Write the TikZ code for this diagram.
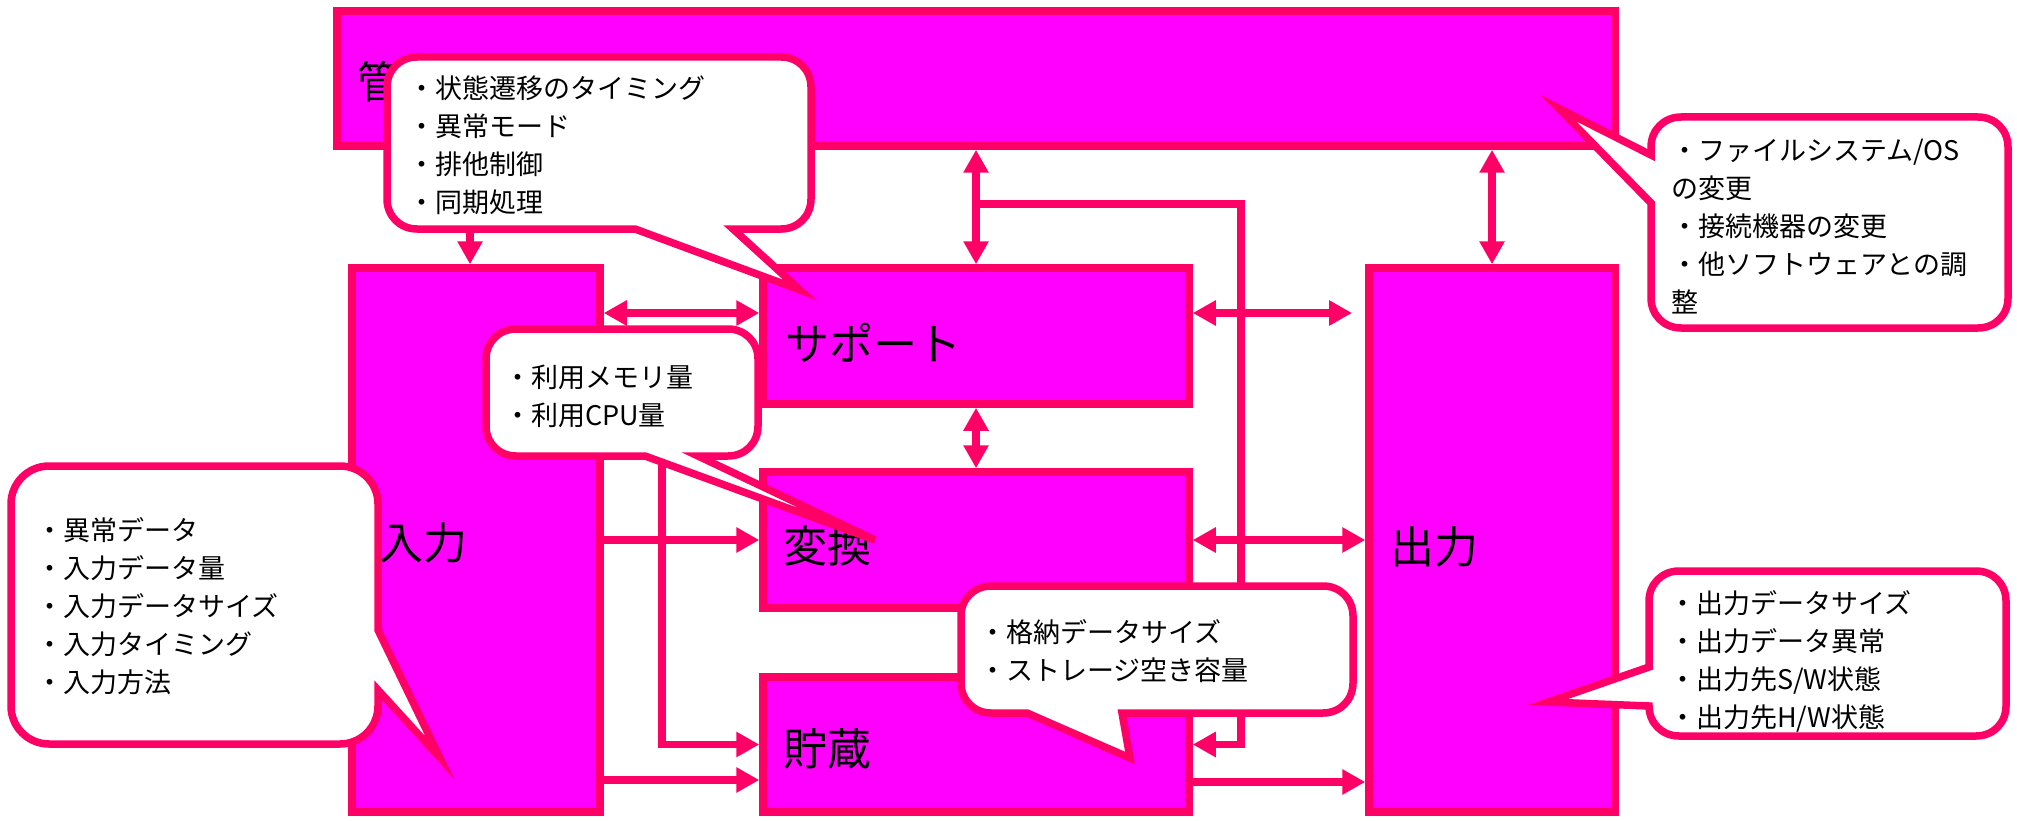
\documentclass[tikz,border=0pt]{standalone}
\usepackage{fontspec}
\setmainfont{Noto Sans CJK JP}
\usetikzlibrary{arrows.meta}
\definecolor{pk}{HTML}{FF0066}
\definecolor{mg}{HTML}{FF00FF}
\begin{document}
\begin{tikzpicture}[x=1pt,y=-1pt,
  blk/.style={draw=pk,fill=mg,line width=7.5pt,inner sep=0pt},
  lbl/.style={font=\fontsize{44}{52}\selectfont,anchor=west,inner sep=0pt},
  txt/.style={font=\fontsize{27}{38}\selectfont,align=left,anchor=west,inner sep=0pt},
  conn/.style={draw=pk,line width=7.5pt},
  arr/.style={conn,-{Triangle[length=23pt,width=24pt]}},
  dbl/.style={conn,{Triangle[length=23pt,width=24pt]}-{Triangle[length=23pt,width=24pt]}},
  bubble/.style={draw=pk,fill=white,line width=7.5pt,line join=miter}]
\fill[white] (0,0) rectangle (2017,821);
\useasboundingbox (0,0) rectangle (2017,821);

% boxes
\node[blk,minimum width=1278pt,minimum height=135pt] (mgmt) at (976,78.5) {};
\node[blk,minimum width=248pt,minimum height=544pt] (input) at (476,540) {};
\node[blk,minimum width=426pt,minimum height=136pt] (support) at (976,336) {};
\node[blk,minimum width=426pt,minimum height=136pt] (transform) at (976,540) {};
\node[blk,minimum width=426pt,minimum height=135pt] (storage) at (976,744.5) {};
\node[blk,minimum width=246pt,minimum height=544pt] (output) at (1492,540) {};

\node[lbl] (mgmtl) at (357,82) {管};
\node[lbl] (inputl) at (379,543) {入力};
\node[lbl] (supportl) at (785,343) {サポート};
\node[lbl] (transforml) at (783,546) {変換};
\node[lbl] (storagel) at (783,749) {貯蔵};
\node[lbl] (outputl) at (1390,547) {出力};

% helper coordinates
\coordinate (c470) at (470,0);
\coordinate (br) at (976,204);
\coordinate (vx) at (1241,0);
\coordinate (y313) at (0,313);
\coordinate (so) at (1352,313);
\coordinate (y400) at (0,400);
\coordinate (x662) at (662,0);
\coordinate (y780) at (0,780);
\coordinate (y782) at (0,782);

% connectors
\draw[arr] (mgmt.south -| c470) -- (input.north -| c470);
\draw[dbl] (mgmt.south) -- (support.north);
\draw[arr] (br) -| (vx |- storage.east) -- (storage.east);
\draw[dbl] (mgmt.south -| output.north) -- (output.north);
\draw[dbl] (input.east |- y313) -- (support.west |- y313);
\draw[dbl] (support.east |- y313) -- (so);
\draw[dbl] (support.south) -- (transform.north);
\draw[arr] (input.east) -- (transform.west);
\draw[dbl] (transform.east) -- (output.west);
\draw[arr] (input.east |- y400) -| (x662 |- storage.west) -- (storage.west);
\draw[arr] (input.east |- y780) -- (storage.west |- y780);
\draw[arr] (storage.east |- y782) -- (output.west |- y782);

% callout 1
\draw[bubble] (417,57) -- (781,57) .. controls (798,57) and (811,70) .. (811,87)
  -- (811,199) .. controls (811,216) and (798,229) .. (781,229)
  -- (733,229) -- (800,290) -- (635,229)
  -- (417,229) .. controls (400,229) and (387,216) .. (387,199)
  -- (387,87) .. controls (387,70) and (400,57) .. (417,57) -- cycle;
\node[txt] (t1) at (408,145.5) {・状態遷移のタイミング\\・異常モード\\・排他制御\\・同期処理};

% callout 2
\draw[bubble] (1681,117) -- (1978,117) .. controls (1995,117) and (2008,130) .. (2008,147)
  -- (2008,298) .. controls (2008,315) and (1995,328) .. (1978,328)
  -- (1681,328) .. controls (1664,328) and (1651,315) .. (1651,298)
  -- (1651,203) -- (1558,108) -- (1651,155)
  -- (1651,147) .. controls (1651,130) and (1664,117) .. (1681,117) -- cycle;
\node[txt] (t2) at (1671,227) {・ファイルシステム/OS\\の変更\\・接続機器の変更\\・他ソフトウェアとの調\\整};

% callout 3
\draw[bubble] (49,466) -- (340,466) .. controls (361,466) and (378,483) .. (378,504)
  -- (378,630) -- (440,758) -- (378,690)
  -- (378,706) .. controls (378,727) and (361,744) .. (340,744)
  -- (49,744) .. controls (28,744) and (11,727) .. (11,706)
  -- (11,504) .. controls (11,483) and (28,466) .. (49,466) -- cycle;
\node[txt] (t3) at (36,606.5) {・異常データ\\・入力データ量\\・入力データサイズ\\・入力タイミング\\・入力方法};

% callout 4
\draw[bubble] (516,329) -- (728,329) .. controls (745,329) and (758,342) .. (758,359)
  -- (758,426) .. controls (758,443) and (745,456) .. (728,456)
  -- (698,456) -- (875,540) -- (645,456)
  -- (516,456) .. controls (499,456) and (486,443) .. (486,426)
  -- (486,359) .. controls (486,342) and (499,329) .. (516,329) -- cycle;
\node[txt] (t4) at (504,396) {・利用メモリ量\\・利用CPU量};

% callout 5
\draw[bubble] (991,586) -- (1323,586) .. controls (1340,586) and (1353,599) .. (1353,616)
  -- (1353,683) .. controls (1353,700) and (1340,713) .. (1323,713)
  -- (1122,713) -- (1130,758) -- (1027,713)
  -- (991,713) .. controls (974,713) and (961,700) .. (961,683)
  -- (961,616) .. controls (961,599) and (974,586) .. (991,586) -- cycle;
\node[txt] (t5) at (979,651.5) {・格納データサイズ\\・ストレージ空き容量};

% callout 6
\draw[bubble] (1679,571) -- (1976,571) .. controls (1993,571) and (2006,584) .. (2006,601)
  -- (2006,706) .. controls (2006,723) and (1993,736) .. (1976,736)
  -- (1679,736) .. controls (1662,736) and (1649,723) .. (1649,706)
  -- (1548,702) -- (1649,667)
  -- (1649,601) .. controls (1649,584) and (1662,571) .. (1679,571) -- cycle;
\node[txt] (t6) at (1669,661) {・出力データサイズ\\・出力データ異常\\・出力先S/W状態\\・出力先H/W状態};
\end{tikzpicture}
\end{document}
